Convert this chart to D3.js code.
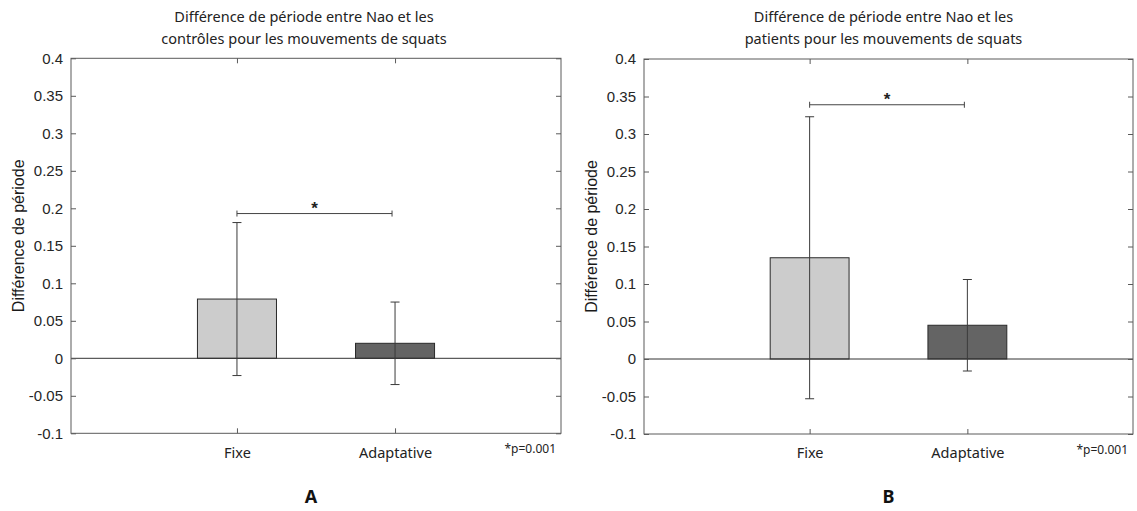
<!DOCTYPE html>
<html><head><meta charset="utf-8">
<script src="https://cdn.jsdelivr.net/npm/d3@7"></script>
<style>body{margin:0;background:#fff;}svg{display:block;}</style>
</head><body>
<script>
const categories = ["Fixe", "Adaptative"];
const controlMeans = [0.079, 0.020];
const controlErrors = [0.102, 0.055];
const patientMeans = [0.135, 0.045];
const patientErrors = [0.188, 0.061];
const controlSigLevel = 0.193;
const patientSigLevel = 0.339;
const yTicks = [-0.1, -0.05, 0, 0.05, 0.1, 0.15, 0.2, 0.25, 0.3, 0.35, 0.4];
const titlesA = ["Différence de période entre Nao et les", "contrôles pour les mouvements de squats"];
const titlesB = ["Différence de période entre Nao et les", "patients pour les mouvements de squats"];
const yLabel = "Différence de période";
const pText = "*p=0.001";
const barColors = ["#cccccc", "#646464"];

const W = 1137, H = 511;
const svg = d3.select("body").append("svg").attr("width", W).attr("height", H);
const sansA = "Liberation Sans, Arial, sans-serif";
const sansB = "Noto Sans, Open Sans, sans-serif";

function panel(opts) {
  const {left, right, top, bottom, means, errors, sig, titles, letter, titleShift, letterShift} = opts;
  const g = svg.append("g");
  const x = d3.scaleLinear().domain([-0.05, 3.05]).range([left, right]);
  const y = d3.scaleLinear().domain([-0.1, 0.4]).range([bottom, top]);
  const pos = categories.map((c, i) => i + 1);
  const bw = 0.5;

  g.selectAll("rect.bar").data(means).join("rect")
    .attr("x", (d, i) => x(pos[i] - bw / 2))
    .attr("width", x(bw) - x(0))
    .attr("y", d => y(Math.max(0, d)))
    .attr("height", d => Math.abs(y(d) - y(0)))
    .attr("fill", (d, i) => barColors[i])
    .attr("stroke", "#2a2a2a").attr("stroke-width", 1);

  g.append("line").attr("x1", left).attr("x2", right)
    .attr("y1", y(0)).attr("y2", y(0)).attr("stroke", "#333").attr("stroke-width", 1);

  const cap = 4.5;
  means.forEach((m, i) => {
    const cx = x(pos[i]);
    const e = errors[i];
    g.append("line").attr("x1", cx).attr("x2", cx).attr("y1", y(m - e)).attr("y2", y(m + e))
      .attr("stroke", "#3a3a3a").attr("stroke-width", 1);
    [m - e, m + e].forEach(v => {
      g.append("line").attr("x1", cx - cap).attr("x2", cx + cap).attr("y1", y(v)).attr("y2", y(v))
        .attr("stroke", "#3a3a3a").attr("stroke-width", 1);
    });
  });

  const sx1 = x(pos[0]), sx2 = x(pos[1]) - 3, sy = y(sig);
  g.append("line").attr("x1", sx1).attr("x2", sx2).attr("y1", sy).attr("y2", sy)
    .attr("stroke", "#444").attr("stroke-width", 1);
  [sx1, sx2].forEach(sx => g.append("line").attr("x1", sx).attr("x2", sx)
    .attr("y1", sy - 3).attr("y2", sy + 3).attr("stroke", "#444").attr("stroke-width", 1));
  g.append("text").attr("x", (sx1 + sx2) / 2).attr("y", sy)
    .attr("text-anchor", "middle").attr("font-family", sansA)
    .attr("font-size", 17).attr("font-weight", "bold").attr("fill", "#222").text("*");

  g.append("rect").attr("x", left).attr("y", top).attr("width", right - left).attr("height", bottom - top)
    .attr("fill", "none").attr("stroke", "#5a5a5a").attr("stroke-width", 1);

  const yAxis = d3.axisLeft(y).tickValues(yTicks).tickSize(-5).tickPadding(8)
    .tickFormat(d => String(+d.toFixed(2)));
  const ya = g.append("g").attr("transform", `translate(${left},0)`).call(yAxis);
  ya.select(".domain").remove();
  ya.selectAll("line").attr("stroke", "#5a5a5a");
  ya.selectAll("text").attr("font-family", sansA)
    .attr("font-size", 15).attr("fill", "#262626");
  const yr = g.append("g").attr("transform", `translate(${right},0)`)
    .call(d3.axisRight(y).tickValues(yTicks).tickSize(-5).tickFormat(""));
  yr.select(".domain").remove();
  yr.selectAll("line").attr("stroke", "#5a5a5a");

  const xb = g.append("g").attr("transform", `translate(0,${bottom})`)
    .call(d3.axisBottom(x).tickValues(pos).tickSize(-5).tickPadding(14).tickFormat((d, i) => categories[i]));
  xb.select(".domain").remove();
  xb.selectAll("line").attr("stroke", "#5a5a5a");
  xb.selectAll("text").attr("font-family", sansB)
    .attr("font-size", 14.5).attr("fill", "#222");
  const xt = g.append("g").attr("transform", `translate(0,${top})`)
    .call(d3.axisTop(x).tickValues(pos).tickSize(-5).tickFormat(""));
  xt.select(".domain").remove();
  xt.selectAll("line").attr("stroke", "#5a5a5a");

  g.append("text").attr("transform", `translate(${left - 47},${(top + bottom) / 2 - 10}) rotate(-90)`)
    .attr("text-anchor", "middle").attr("font-family", sansA)
    .attr("font-size", 16).attr("fill", "#1a1a1a").text(yLabel);

  const cx = (left + right) / 2;
  titles.forEach((t, i) => g.append("text").attr("x", cx + titleShift).attr("y", 22 + i * 21.5)
    .attr("text-anchor", "middle").attr("font-family", sansB)
    .attr("font-size", 14.5).attr("fill", "#222").text(t));

  g.append("text").attr("x", right - 5).attr("y", bottom + 20).attr("text-anchor", "end")
    .attr("font-family", sansB).attr("font-size", 12)
    .attr("fill", "#222").text(pText);

  g.append("text").attr("x", cx + letterShift).attr("y", 503).attr("text-anchor", "middle")
    .attr("font-family", sansB).attr("font-size", 18)
    .attr("font-weight", "bold").attr("fill", "#111").text(letter);
}

panel({left: 71, right: 561, top: 58.3, bottom: 433.3, means: controlMeans, errors: controlErrors,
  sig: controlSigLevel, titles: titlesA, letter: "A", titleShift: -12, letterShift: -5});
panel({left: 644, right: 1133, top: 59, bottom: 434, means: patientMeans, errors: patientErrors,
  sig: patientSigLevel, titles: titlesB, letter: "B", titleShift: -5, letterShift: 0});
</script>
</body></html>
